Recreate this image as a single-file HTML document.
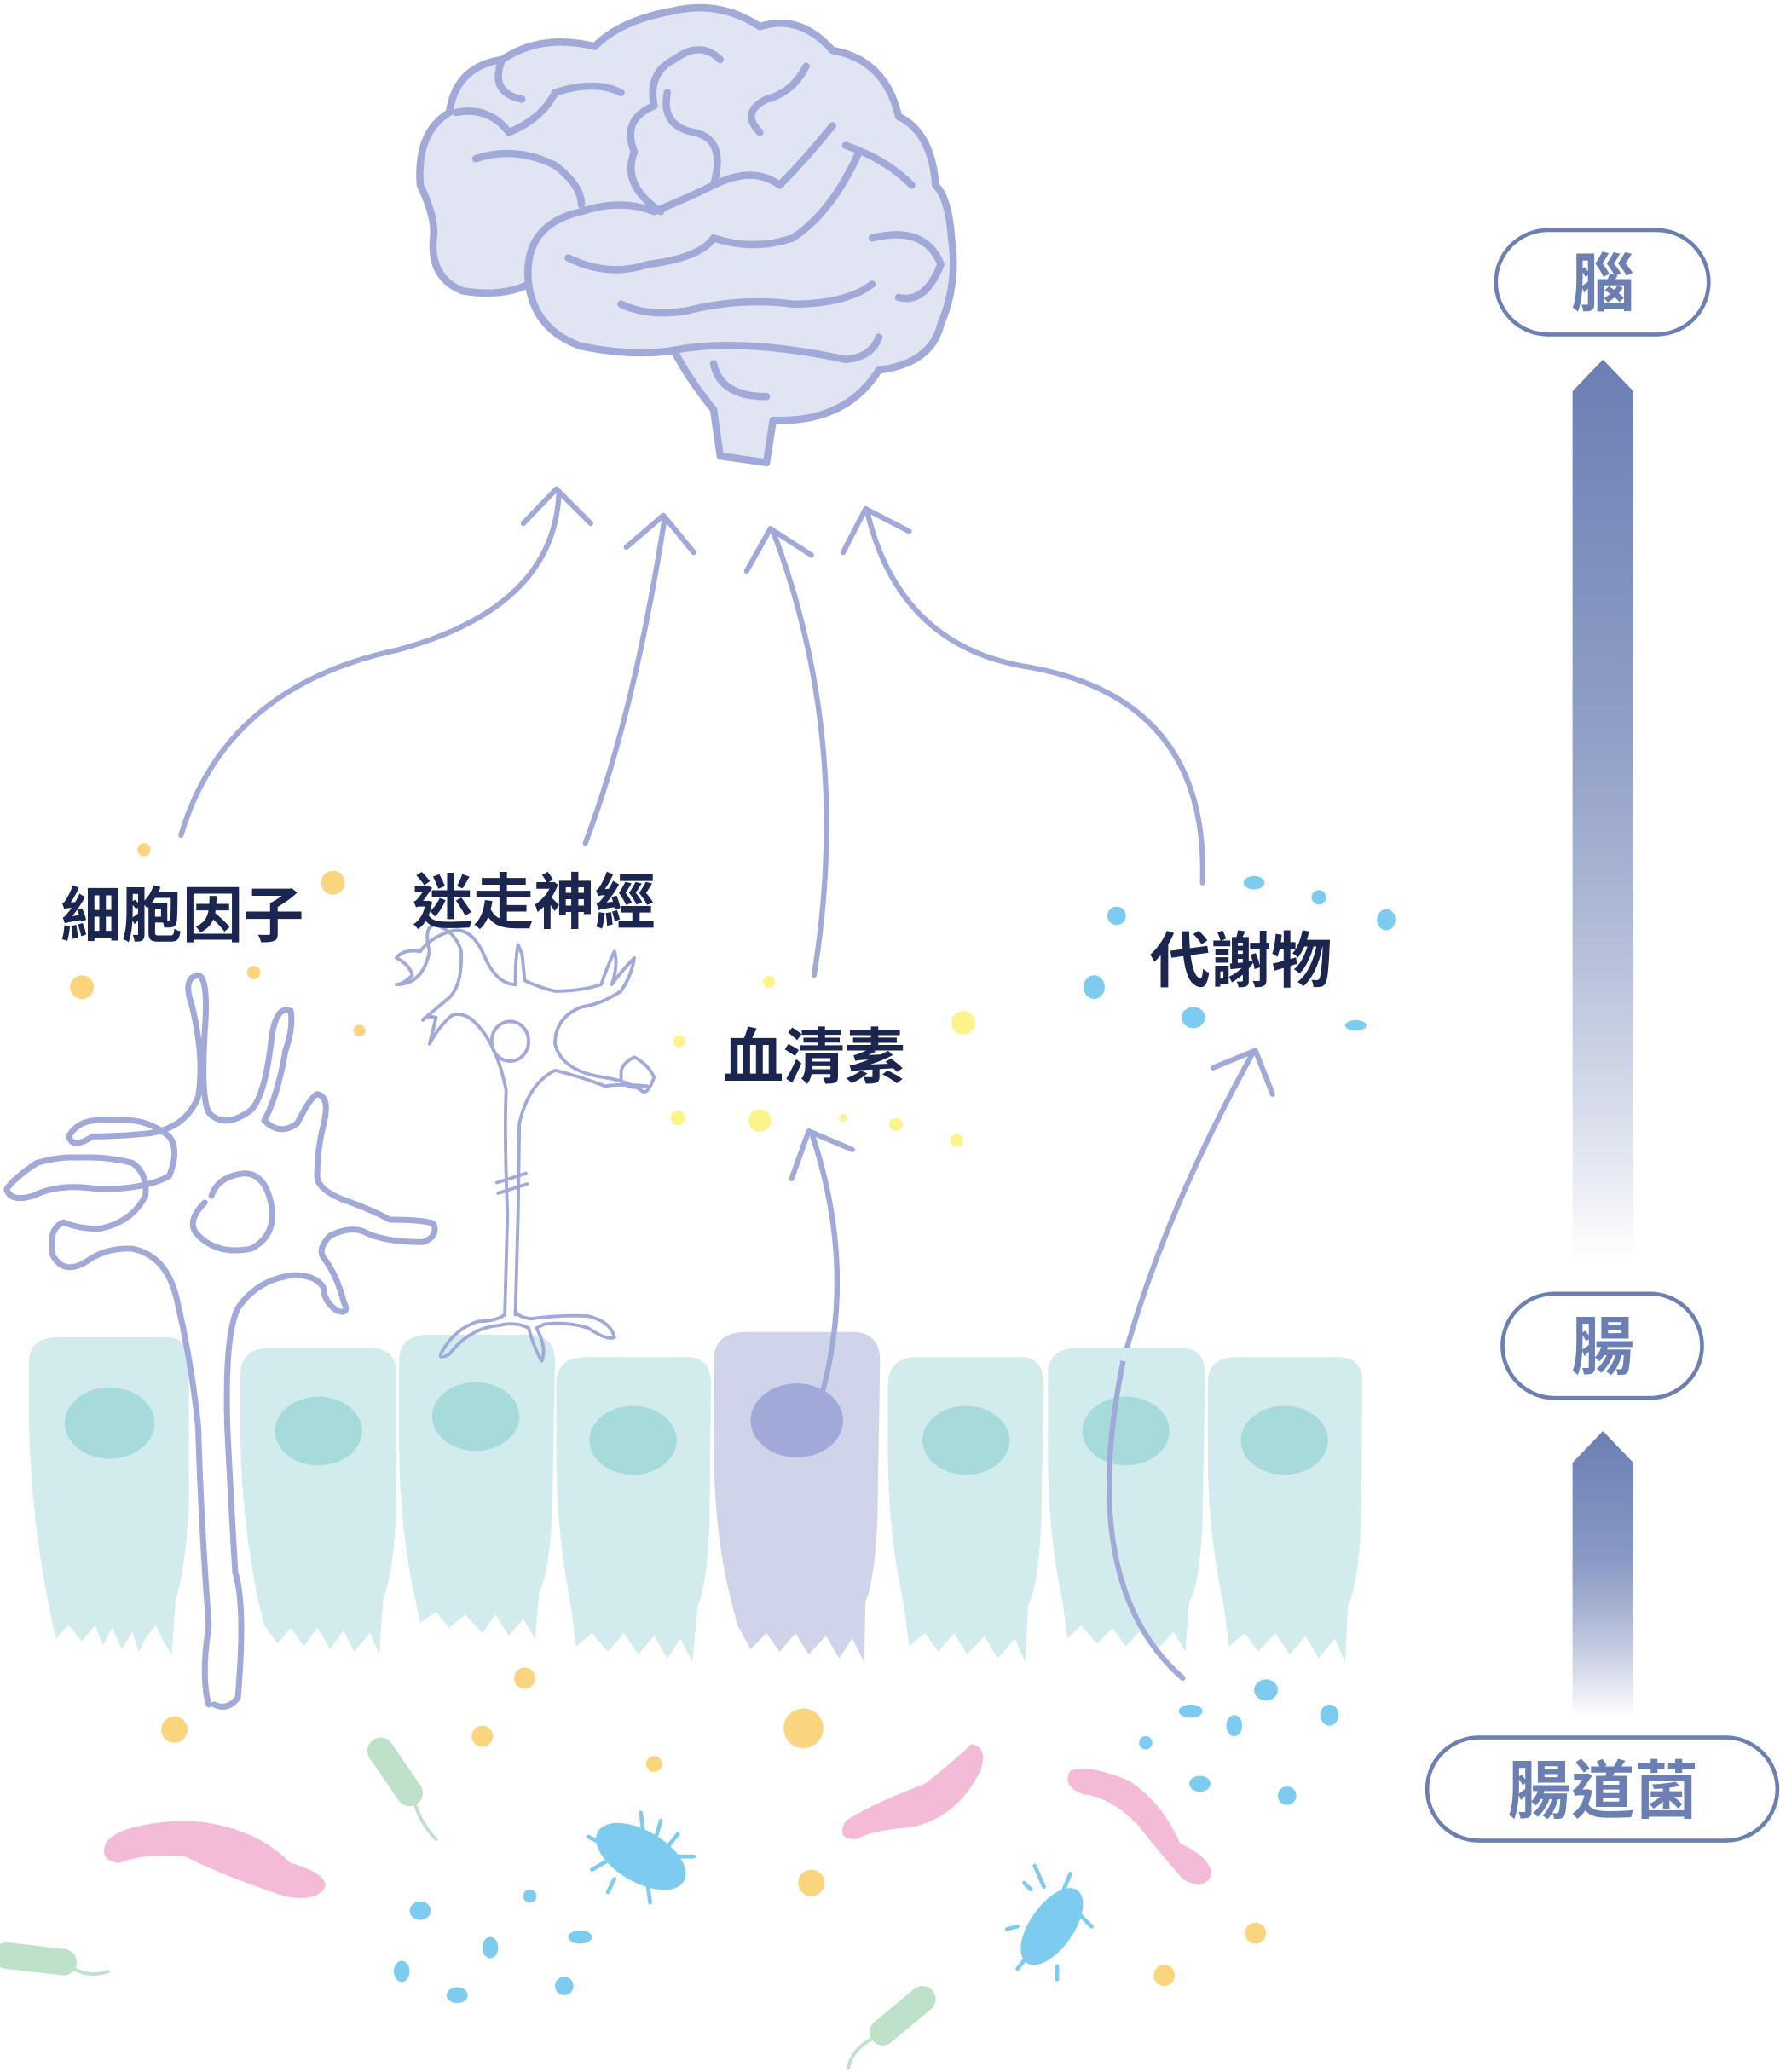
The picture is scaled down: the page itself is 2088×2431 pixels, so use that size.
<!DOCTYPE html>
<html><head><meta charset="utf-8"><style>
html,body{margin:0;padding:0;background:#fff;}
svg{display:block}
text{font-family:"Liberation Sans","Noto Sans CJK TC",sans-serif;font-weight:700}
</style></head><body>
<svg width="2088" height="2431" viewBox="0 0 1347 1568" xmlns="http://www.w3.org/2000/svg">
<defs>
<linearGradient id="g1" x1="0" y1="0" x2="0" y2="1">
<stop offset="0" stop-color="#6b7fb3"/><stop offset="0.4" stop-color="#8f9ec6"/><stop offset="1" stop-color="#6b7fb3" stop-opacity="0"/></linearGradient>
<linearGradient id="g2" x1="0" y1="0" x2="0" y2="1">
<stop offset="0" stop-color="#6b7fb3"/><stop offset="0.45" stop-color="#8a99c4"/><stop offset="1" stop-color="#6b7fb3" stop-opacity="0"/></linearGradient>
</defs>

<!-- brain -->
<g stroke="#a1a9d8" stroke-width="5.5" fill="#e1e5f3" stroke-linecap="round" stroke-linejoin="round">
<path d="M540 310 L545 345 L580 350 L585 318 Q640 320 665 280 Q705 275 712 245 Q725 215 720 180 Q718 150 708 140 Q705 100 680 88 Q670 45 630 38 Q605 10 575 20 Q545 0 510 8 Q470 15 450 35 Q410 25 380 45 Q345 50 340 85 Q315 100 318 140 Q330 165 328 180 Q325 210 350 220 Q380 225 400 215 Q405 250 440 262 Q480 270 510 265 Q520 285 540 310 Z"/>
<g fill="none">
<path d="M400 215 Q395 170 440 160 Q470 150 495 160 Q520 150 540 140 Q570 125 590 140 Q610 120 630 95"/>
<path d="M500 160 Q470 140 480 115 Q470 90 495 80 Q490 55 510 45 Q530 30 545 45"/>
<path d="M540 140 Q550 105 525 100 Q500 95 505 70"/>
<path d="M360 120 Q390 110 420 125 Q440 140 440 155"/>
<path d="M345 85 Q370 80 385 100 Q410 90 420 70 Q450 60 470 70"/>
<path d="M380 45 Q370 70 395 75"/>
<path d="M430 195 Q460 210 490 200 Q530 195 540 180 Q570 190 600 180 Q630 160 650 115"/>
<path d="M660 180 Q700 170 712 200 Q700 230 680 225"/>
<path d="M640 110 Q670 120 690 140"/>
<path d="M470 230 Q490 240 520 235 Q560 225 600 230 Q640 230 660 215"/>
<path d="M510 265 Q560 255 640 272 Q660 270 665 255"/>
<path d="M540 275 Q545 300 580 300"/>
<path d="M575 100 Q560 85 580 75 Q600 70 610 50"/>
</g></g>

<!-- arrows up to brain -->
<g stroke="#a1a9d8" stroke-width="4" fill="none" stroke-linecap="round" stroke-linejoin="round">
<path d="M137 632 Q170 520 300 492 Q420 460 423 372"/>
<path d="M396 396 L421 370 L447 396"/>
<path d="M443 638 Q480 540 503 392"/>
<path d="M474 414 L502 390 L525 418"/>
<path d="M616 738 Q645 560 585 402"/>
<path d="M565 432 L583 400 L614 420"/>
<path d="M910 668 Q915 530 780 505 Q680 490 656 386"/>
<path d="M638 418 L655 385 L688 402"/>
<path d="M622 1055 Q648 960 615 860"/>
<path d="M599 892 L612 856 L645 870"/>
<path d="M895 1270 Q815 1200 850 1030 Q880 920 948 797"/>
<path d="M918 808 L950 795 L963 828"/>
</g>

<!-- cells -->
<g fill="#d2ecee">
<path d="M22 1030 Q22 1012 45 1012 L125 1012 Q143 1012 143 1030 L143 1140 Q140 1190 133 1210 L130 1252 Q122 1240 118 1230 L110 1240 L105 1250 L100 1235 L92 1248 L85 1232 L78 1245 L72 1230 L62 1242 L52 1230 L42 1240 L36 1210 Q24 1150 22 1080 Z"/>
<path d="M182 1040 Q182 1020 205 1020 L280 1020 Q300 1020 300 1040 L300 1140 Q298 1190 290 1210 L287 1252 L280 1236 L268 1250 L260 1234 L250 1248 L240 1232 L230 1246 L220 1232 L210 1244 L200 1230 L195 1210 Q183 1150 182 1090 Z"/>
<path d="M302 1030 Q302 1010 325 1010 L400 1010 Q420 1010 420 1030 L418 1140 Q416 1190 408 1205 L405 1240 L396 1225 L385 1238 L375 1222 L365 1236 L352 1222 L340 1232 L330 1220 L318 1228 L312 1200 Q302 1150 302 1090 Z"/>
<path d="M421 1047 Q421 1027 444 1027 L520 1027 Q538 1027 538 1047 L537 1150 Q535 1200 528 1215 L524 1258 L515 1240 L505 1255 L495 1238 L483 1252 L472 1236 L460 1250 L448 1236 L436 1246 L432 1215 Q421 1160 421 1100 Z"/>
<path d="M672 1048 Q672 1027 695 1027 L772 1027 Q790 1027 790 1048 L788 1150 Q786 1200 778 1215 L776 1258 L768 1240 L755 1255 L745 1238 L732 1252 L722 1236 L710 1250 L700 1236 L688 1246 L684 1215 Q672 1160 672 1100 Z"/>
<path d="M793 1040 Q793 1020 816 1020 L893 1020 Q912 1020 912 1040 L910 1150 Q908 1200 900 1212 L897 1250 L888 1235 L876 1248 L865 1232 L852 1246 L842 1232 L830 1244 L818 1230 L808 1240 L804 1212 Q793 1160 793 1100 Z"/>
<path d="M914 1046 Q914 1027 937 1027 L1012 1027 Q1031 1027 1031 1046 L1030 1150 Q1028 1200 1020 1215 L1018 1258 L1010 1240 L998 1255 L988 1238 L976 1252 L965 1236 L952 1250 L942 1236 L930 1246 L926 1215 Q914 1160 914 1100 Z"/>
</g>
<path fill="#cfd4ea" d="M540 1030 Q540 1008 565 1008 L645 1008 Q666 1008 666 1030 L664 1150 Q662 1195 655 1212 L654 1258 L645 1240 L635 1255 L625 1238 L612 1252 L602 1236 L590 1250 L580 1236 L568 1248 L558 1230 L553 1210 Q540 1160 540 1090 Z"/>
<g fill="#a7dadb">
<ellipse cx="83" cy="1077" rx="34" ry="27"/>
<ellipse cx="241" cy="1083" rx="33" ry="26"/>
<ellipse cx="360" cy="1072" rx="33" ry="26"/>
<ellipse cx="479" cy="1090" rx="33" ry="26"/>
<ellipse cx="731" cy="1090" rx="33" ry="26"/>
<ellipse cx="852" cy="1083" rx="33" ry="26"/>
<ellipse cx="972" cy="1090" rx="33" ry="26"/>
</g>
<ellipse cx="603" cy="1075" rx="35" ry="28" fill="#a0a9d7"/>
<path d="M622 1055 Q648 960 615 860" stroke="#a1a9d8" stroke-width="4" fill="none"/>
<path d="M895 1270 Q815 1200 850 1030" stroke="#a1a9d8" stroke-width="4" fill="none"/>

<!-- glial cell -->
<g stroke="#a1a9d8" stroke-width="4.5" fill="none" stroke-linecap="round" stroke-linejoin="round">
<path d="M158 1290 Q152 1270 158 1230 Q152 1150 150 1080 Q145 1030 133 980 Q125 950 100 945 Q80 944 65 955 Q48 965 40 950 Q36 930 48 925 Q60 930 75 930 Q100 925 110 905 Q112 888 100 880 Q80 875 60 876 Q45 875 28 880 Q10 892 5 900 Q8 910 25 905 Q45 895 75 900 Q110 900 128 890 Q136 870 128 860 Q110 845 85 848 Q60 845 52 860 Q55 870 70 860 Q90 860 110 858 Q140 855 150 830 Q155 800 145 760 Q138 740 150 738 Q158 740 155 780 Q152 830 158 842 Q170 855 190 840 Q200 830 205 790 Q208 760 220 765 Q222 778 216 795 Q210 830 200 848 Q212 860 225 850 Q235 830 240 828 Q250 830 245 850 Q240 870 240 890 Q240 900 260 908 Q280 915 295 923 Q320 923 328 926 Q332 936 320 940 Q290 940 275 932 Q265 928 250 935 Q240 945 245 952 Q255 965 260 985 Q265 995 255 992 Q245 985 245 975 Q240 965 222 965 Q195 968 180 990 Q170 1010 172 1080 Q175 1140 178 1190 Q186 1215 180 1285 Q172 1295 162 1290"/>
<path d="M155 910 Q140 925 150 935 Q165 950 190 945 Q210 935 205 910 Q200 888 185 888 Q165 890 160 905"/>
</g>

<!-- neuron -->
<g stroke="#a1a9d8" stroke-width="2.5" fill="none" stroke-linecap="round" stroke-linejoin="round">
<path d="M382 995 L384 920 L383 888 Q382 850 383 825 Q375 785 355 770 Q345 765 340 770 Q330 780 325 790 Q328 778 330 770 Q322 768 320 772 Q328 765 340 755 Q350 745 349 720 Q345 705 330 700 Q320 700 325 720 Q320 745 300 745 Q305 745 312 738 Q310 730 300 725 Q305 718 318 720 Q325 710 340 705 Q355 700 365 720 Q375 745 390 745 Q390 725 392 715 L395 722 Q396 730 397 742 Q410 748 420 750 Q440 750 455 745 Q460 730 465 720 Q468 730 463 745 Q470 735 480 725 Q478 738 470 750 Q455 760 440 762 Q420 770 420 790 Q425 810 455 815 Q475 818 485 825 Q490 830 495 815 Q490 805 480 800 Q470 805 470 812 L470 818 Q475 825 490 822 Q470 820 458 822 Q440 815 420 810 Q400 820 393 850 L392 920 L390 995"/>
<path d="M376 895 L398 888 M377 903 L399 896"/>
<ellipse cx="386" cy="788" rx="14" ry="15"/>
<path d="M382 995 Q375 1000 362 1000 Q345 1005 335 1022 Q330 1030 340 1025 Q355 1005 378 1003 Q390 1000 400 1005 Q404 1020 410 1030 Q414 1020 406 1005 L412 1002 Q430 1000 445 1005 Q460 1015 465 1012 Q462 1000 445 996 Q425 995 402 998 Q392 997 390 992"/>
</g>

<!-- dots yellow/orange -->
<g fill="#fbd57d">
<circle cx="109" cy="643" r="5"/><circle cx="252" cy="668" r="9"/><circle cx="62" cy="747" r="9"/>
<circle cx="192" cy="736" r="5"/><circle cx="272" cy="780" r="4.5"/>
<circle cx="397" cy="1270" r="8"/><circle cx="132" cy="1309" r="10"/><circle cx="365" cy="1314" r="8"/>
<circle cx="608" cy="1308" r="15"/><circle cx="495" cy="1335" r="6"/><circle cx="614" cy="1425" r="10"/>
<circle cx="950" cy="1463" r="8"/><circle cx="881" cy="1495" r="8"/>
</g>
<g fill="#fcf48a">
<circle cx="582" cy="743" r="4.5"/><circle cx="514" cy="788" r="4.5"/><circle cx="729" cy="774" r="9"/>
<circle cx="513" cy="846" r="5.5"/><circle cx="575" cy="848" r="8.5"/><circle cx="638" cy="846" r="3"/>
<circle cx="678" cy="851" r="5"/><circle cx="724" cy="863" r="5"/>
</g>
<g fill="#7dccf0">
<ellipse cx="949" cy="668" rx="8" ry="5"/><circle cx="845" cy="693" r="7"/><circle cx="998" cy="679" r="5.5"/>
<ellipse cx="1049" cy="696" rx="7" ry="8"/><ellipse cx="828" cy="747" rx="8" ry="9"/><ellipse cx="903" cy="770" rx="9" ry="8"/>
<ellipse cx="1026" cy="776" rx="8" ry="4"/>
<ellipse cx="901" cy="1295" rx="9" ry="5"/><ellipse cx="934" cy="1306" rx="6" ry="8"/><ellipse cx="958" cy="1279" rx="9" ry="8"/>
<ellipse cx="1006" cy="1298" rx="7" ry="8"/><circle cx="867" cy="1319" r="5"/><ellipse cx="908" cy="1350" rx="8" ry="6"/>
<circle cx="974" cy="1359" r="7"/>
<ellipse cx="318" cy="1446" rx="8" ry="7"/><circle cx="401" cy="1435" r="5"/><ellipse cx="439" cy="1466" rx="9" ry="5"/>
<ellipse cx="371" cy="1474" rx="6" ry="8"/><ellipse cx="304" cy="1492" rx="6" ry="8"/><ellipse cx="346" cy="1510" rx="8" ry="6"/>
<circle cx="427" cy="1503" r="7"/>
</g>

<!-- bacteria -->
<g fill="#f3bbd6">
<path d="M80 1395 Q90 1380 140 1378 Q190 1380 220 1410 Q248 1418 246 1428 Q240 1440 215 1435 Q170 1420 140 1405 Q110 1402 90 1410 Q75 1408 80 1395 Z"/>
<path d="M640 1378 Q660 1365 700 1350 Q725 1330 735 1320 Q748 1322 742 1340 Q725 1375 690 1383 Q660 1385 648 1392 Q632 1392 640 1378 Z"/>
<path d="M810 1340 Q825 1335 855 1348 Q880 1365 893 1395 Q915 1405 917 1418 Q912 1432 895 1422 Q880 1405 860 1380 Q840 1360 820 1358 Q803 1352 810 1340 Z"/>
</g>
<g fill="#bfe1c9" stroke="#bfe1c9" stroke-linecap="round">
<path d="M288 1325 L310 1357" stroke-width="20"/>
<path d="M313 1362 Q318 1380 330 1392" stroke-width="2.5" fill="none"/>
<path d="M5 1480 L48 1485" stroke-width="20"/>
<path d="M50 1486 Q65 1498 82 1492" stroke-width="2.5" fill="none"/>
<path d="M698 1513 L668 1538" stroke-width="20"/>
<path d="M662 1542 Q645 1550 642 1565" stroke-width="2.5" fill="none"/>
</g>
<g fill="#7dccf0" stroke="#7dccf0" stroke-width="3" stroke-linecap="round">
<ellipse cx="485" cy="1405" rx="36" ry="18" transform="rotate(30 485 1405)"/>
<path d="M485 1372 L487 1388 M500 1378 L496 1392 M513 1388 L505 1398 M525 1405 L510 1405 M460 1408 L448 1415 M465 1422 L460 1432 M490 1425 L492 1440 M455 1395 L445 1390"/>
<ellipse cx="796" cy="1458" rx="32" ry="15" transform="rotate(-55 796 1458)"/>
<path d="M790 1428 L783 1412 M805 1430 L810 1418 M818 1450 L826 1458 M770 1458 L762 1460 M778 1480 L770 1490 M800 1488 L800 1498 M780 1430 L775 1425"/>
</g>

<!-- labels -->
<g fill="#1a2550" font-size="46">
<text x="46" y="709">細胞因子</text>
<text x="312" y="699">迷走神經</text>
<text x="547" y="816">血清素</text>
<text x="870" y="743">代謝物</text>
</g>

<!-- right side -->
<path d="M1190 296 L1213 272 L1236 296 L1236 955 L1190 955 Z" fill="url(#g1)"/>
<path d="M1190 1107 L1213 1083 L1236 1107 L1236 1300 L1190 1300 Z" fill="url(#g2)"/>
<g fill="#fff" stroke="#6b7fb3" stroke-width="3">
<rect x="1132" y="174" width="161" height="79" rx="39.5"/>
<rect x="1137" y="979" width="151" height="79" rx="39.5"/>
<rect x="1080" y="1315" width="265" height="78" rx="39"/>
</g>
<g fill="#6b7fb3" font-size="48" text-anchor="middle">
<text x="1213" y="231">腦</text>
<text x="1213" y="1036">腸</text>
<text x="1213" y="1372">腸道菌</text>
</g>
</svg>
</body></html>
